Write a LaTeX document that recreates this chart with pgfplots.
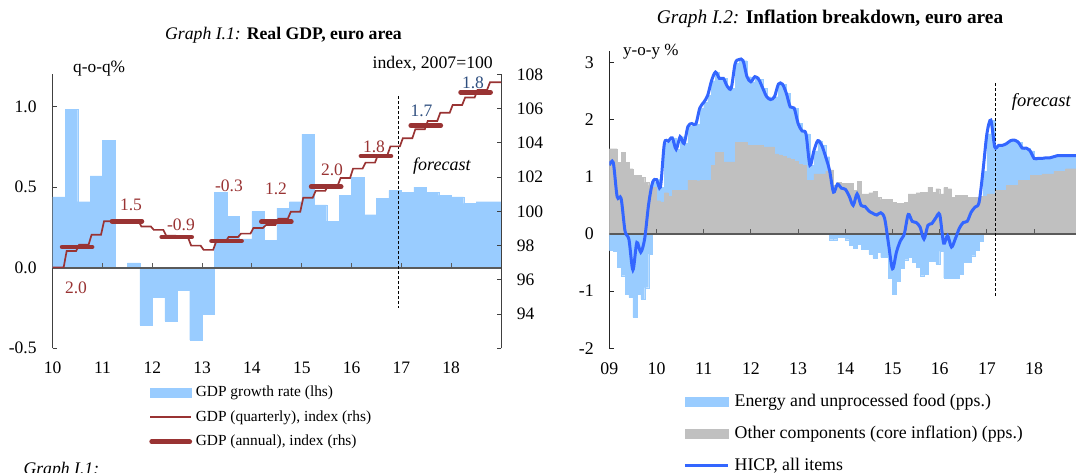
\documentclass[border=0pt]{standalone}
\usepackage{fontspec}
\setmainfont{Liberation Serif}
\usepackage{pgfplots}
\usepackage{pgfplotstable}
\pgfplotsset{compat=1.18}
\definecolor{barblue}{HTML}{99CCFF}
\definecolor{gdpred}{HTML}{993333}
\definecolor{fcblue}{HTML}{2F4F7F}
\definecolor{coregrey}{HTML}{C0C0C0}
\definecolor{hicpblue}{HTML}{3366FF}
\definecolor{zerogrey}{HTML}{5A5A5A}
\newcommand{\fa}{\fontsize{17.5pt}{21pt}\selectfont}
\newcommand{\fl}{\fontsize{15.4pt}{18pt}\selectfont}
\newcommand{\fr}{\fontsize{17.8pt}{21pt}\selectfont}

\pgfplotstableread{
x g
10.00 0.44
10.25 0.985
10.50 0.41
10.75 0.57
11.00 0.79
11.25 0.00
11.50 0.03
11.75 -0.356
12.00 -0.18
12.25 -0.33
12.50 -0.14
12.75 -0.45
13.00 -0.29
13.25 0.47
13.50 0.32
13.75 0.18
14.00 0.35
14.25 0.17
14.50 0.37
14.75 0.41
15.00 0.83
15.25 0.39
15.50 0.29
15.75 0.45
16.00 0.56
16.25 0.33
16.50 0.43
16.75 0.48
17.00 0.47
17.25 0.50
17.50 0.47
17.75 0.45
18.00 0.44
18.25 0.40
18.50 0.41
18.75 0.41
19.00 0.41
}\gdpq

\pgfplotstableread{
m c b h
0 1.49 -0.29 1.20
1 1.49 -0.30 1.25
2 1.25 -0.58 0.65
3 1.43 -0.73 0.62
4 1.25 -1.05 0.05
5 1.14 -1.11 -0.10
6 1.02 -1.46 -0.63
7 1.02 -1.05 -0.15
8 0.99 -1.14 -0.32
9 0.90 -0.94 -0.08
10 0.85 -0.35 0.52
11 0.82 0.90 0.90
12 0.58 0.95 0.95
13 0.56 0.82 0.82
14 0.72 1.58 1.58
15 0.66 1.62 1.62
16 0.76 1.68 1.68
17 0.76 1.48 1.48
18 0.76 1.70 1.70
19 0.76 1.58 1.58
20 0.94 1.88 1.88
21 0.94 1.93 1.93
22 0.93 1.92 1.92
23 0.94 2.20 2.20
24 0.94 2.30 2.30
25 0.94 2.42 2.42
26 1.20 2.68 2.68
27 1.43 2.83 2.83
28 1.43 2.72 2.72
29 1.26 2.72 2.72
30 1.26 2.58 2.58
31 1.26 2.55 2.55
32 1.60 2.98 2.98
33 1.60 3.05 3.05
34 1.60 3.03 3.03
35 1.55 2.75 2.75
36 1.55 2.66 2.66
37 1.55 2.75 2.75
38 1.55 2.70 2.70
39 1.52 2.55 2.55
40 1.52 2.40 2.40
41 1.52 2.35 2.35
42 1.40 2.40 2.40
43 1.38 2.62 2.62
44 1.36 2.62 2.62
45 1.33 2.46 2.46
46 1.30 2.22 2.22
47 1.27 2.20 2.20
48 1.22 1.93 1.93
49 1.20 1.80 1.80
50 0.94 1.75 1.75
51 0.94 1.20 1.20
52 1.05 1.45 1.45
53 1.05 1.63 1.63
54 1.05 1.55 1.55
55 1.10 1.35 1.35
56 1.12 -0.10 1.11
57 0.85 -0.10 0.73
58 0.90 -0.06 0.87
59 0.88 -0.06 0.80
60 0.88 -0.10 0.78
61 0.88 -0.19 0.66
62 0.76 -0.25 0.50
63 0.92 -0.18 0.70
64 0.70 -0.26 0.50
65 0.70 -0.26 0.48
66 0.72 -0.35 0.40
67 0.74 -0.42 0.36
68 0.64 -0.32 0.33
69 0.60 -0.41 0.37
70 0.60 -0.41 0.27
71 0.60 -0.78 -0.18
72 0.55 -1.06 -0.61
73 0.53 -0.82 -0.32
74 0.53 -0.60 -0.12
75 0.55 -0.45 0.00
76 0.70 -0.40 0.34
77 0.70 -0.50 0.22
78 0.72 -0.58 0.20
79 0.73 -0.73 0.12
80 0.73 -0.70 -0.09
81 0.82 -0.47 0.15
82 0.73 -0.47 0.18
83 0.79 -0.53 0.28
84 0.70 -0.30 0.34
85 0.81 -0.77 -0.16
86 0.79 -0.77 -0.03
87 0.64 -0.77 -0.23
88 0.67 -0.77 -0.08
89 0.67 -0.70 0.10
90 0.67 -0.50 0.20
91 0.64 -0.50 0.22
92 0.64 -0.38 0.38
93 0.64 -0.28 0.47
94 0.66 -0.12 0.55
95 0.66 1.10 1.10
96 0.70 1.75 1.75
97 0.70 1.99 1.99
98 0.76 1.52 1.52
99 0.76 1.55 1.55
100 0.76 1.55 1.55
101 0.85 1.58 1.58
102 0.85 1.63 1.63
103 0.85 1.64 1.64
104 0.94 1.60 1.60
105 0.94 1.50 1.50
106 0.94 1.50 1.50
107 1.03 1.45 1.45
108 1.03 1.32 1.32
109 1.03 1.32 1.32
110 1.05 1.32 1.32
111 1.05 1.33 1.33
112 1.05 1.33 1.33
113 1.10 1.35 1.35
114 1.10 1.37 1.37
115 1.10 1.37 1.37
116 1.14 1.37 1.37
117 1.14 1.37 1.37
118 1.14 1.37 1.37
119 1.14 1.37 1.37
120 1.14 1.37 1.37
}\infl

\begin{document}
\begin{tikzpicture}
% ---------------- Left chart, lhs axis ----------------
\begin{axis}[
  at={(52.7pt,124.7pt)}, anchor=south west, scale only axis,
  width=448.3pt, height=273.8pt,
  xmin=10, xmax=19, ymin=-0.5, ymax=1.2,
  axis x line=bottom, axis y line=left, axis line style={-},
  x axis line style={draw=none},
  y axis line style={line width=1pt, black!75},
  xtick={10,11,12,13,14,15,16,17,18},
  xticklabels={10,11,12,13,14,15,16,17,18},
  xtick style={draw=none},
  ytick={-0.5,0,0.5,1}, yticklabels={-0.5,0.0,0.5,1.0},
  ytick style={line width=1pt, black!75},
  tick align=inside, major tick length=4.5pt,
  xticklabel style={font=\fa, anchor=base, yshift=-25pt, inner sep=0pt},
  yticklabel style={font=\fa, anchor=east, xshift=-16pt, inner sep=0pt},
]
\addplot[ybar interval, fill=barblue, draw=barblue, line width=0.2pt] table[x=x,y=g]{\gdpq};
\draw[zerogrey, line width=1.6pt] (axis cs:10,0) -- (axis cs:19,0);
\pgfplotsinvokeforeach{11,...,18}{\draw[zerogrey, line width=1pt] (axis cs:#1,0) -- ([yshift=5pt]axis cs:#1,0);}
\draw[black, line width=0.8pt, dash pattern=on 3pt off 2pt] (axis cs:16.95,1.065) -- (axis cs:16.95,-0.25);
\end{axis}
% ---------------- Left chart, rhs axis ----------------
\begin{axis}[
  at={(52.7pt,124.7pt)}, anchor=south west, scale only axis,
  width=448.3pt, height=273.8pt,
  xmin=10, xmax=19, ymin=92, ymax=108,
  axis x line=none, axis y line=right, axis line style={-},
  y axis line style={line width=1pt, black!75},
  ytick={92,94,...,108}, yticklabels={,94,96,98,100,102,104,106,108},
  ytick style={line width=1pt, black!75},
  tick align=inside, major tick length=4.5pt,
  yticklabel style={font=\fa, anchor=west, xshift=15.7pt, inner sep=0pt},
  unbounded coords=jump,
  legend style={at={(0.2155,-0.133)}, anchor=north west, draw=none, fill=none,
    inner sep=0pt, outer sep=0pt, row sep=8.5pt, column sep=3.7pt, font=\fl,
    nodes={inner sep=0pt, text height=12pt, text depth=4pt}, cells={anchor=west}},
]
\addlegendimage{legend image code/.code={\fill[barblue] (0pt,-4.5pt) rectangle (41pt,4.5pt);}}
\addlegendentry{GDP growth rate (lhs)}
\addlegendimage{legend image code/.code={\draw[gdpred, line width=1.7pt] (0pt,0pt) -- (41pt,0pt);}}
\addlegendentry{GDP (quarterly), index (rhs)}
\addlegendimage{legend image code/.code={\draw[gdpred, line width=4.8pt, line cap=round] (1.5pt,0pt) -- (39.5pt,0pt);}}
\addlegendentry{GDP (annual), index (rhs)}
\addplot[forget plot, gdpred, line width=1.7pt] coordinates {
(10.00,96.73) (10.22,96.73) (10.28,97.68) (10.47,97.68) (10.53,98.05) (10.72,98.05)
(10.78,98.63) (10.97,98.63) (11.03,99.42) (11.22,99.42) (11.28,99.45) (11.47,99.45)
(11.53,99.45) (11.72,99.45) (11.78,99.12) (11.97,99.12) (12.03,98.92) (12.22,98.92)
(12.28,98.58) (12.47,98.58) (12.53,98.45) (12.72,98.45) (12.78,98.00) (12.97,98.00)
(13.03,97.75) (13.22,97.75) (13.28,98.22) (13.47,98.22) (13.53,98.50) (13.72,98.50)
(13.78,98.70) (13.97,98.70) (14.03,99.03) (14.22,99.03) (14.28,99.20) (14.47,99.20)
(14.53,99.57) (14.72,99.57) (14.78,99.98) (14.97,99.98) (15.03,100.80) (15.22,100.80)
(15.28,101.20) (15.47,101.20) (15.53,101.50) (15.72,101.50) (15.78,101.95) (15.97,101.95)
(16.03,102.50) (16.22,102.50) (16.28,102.85) (16.47,102.85) (16.53,103.30) (16.72,103.30)
(16.78,103.80) (16.97,103.80) (17.03,104.28) (17.22,104.28) (17.28,104.80) (17.47,104.80)
(17.53,105.28) (17.72,105.28) (17.78,105.76) (17.97,105.76) (18.03,106.22) (18.22,106.22)
(18.28,106.65) (18.47,106.65) (18.53,107.10) (18.72,107.10) (18.78,107.55) (19.00,107.55)
};
\addplot[forget plot, gdpred, line width=4.8pt, line cap=round] coordinates {
(10.19,97.92) (10.79,97.92) (10.9,nan)
(11.19,99.43) (11.79,99.43) (11.9,nan)
(12.19,98.50) (12.79,98.50) (12.9,nan)
(13.19,98.27) (13.79,98.27) (13.9,nan)
(14.19,99.40) (14.79,99.40) (14.9,nan)
(15.19,101.44) (15.79,101.44) (15.9,nan)
(16.19,103.24) (16.79,103.24) (16.9,nan)
(17.19,105.02) (17.79,105.02) (17.9,nan)
(18.19,106.97) (18.79,106.97)
};
\end{axis}
% ---------------- Right chart ----------------
\begin{axis}[
  at={(609.3pt,124.7pt)}, anchor=south west, scale only axis,
  width=472pt, height=297.4pt,
  xmin=9, xmax=19, ymin=-2, ymax=3.2,
  axis x line=bottom, axis y line=left, axis line style={-},
  x axis line style={draw=none}, xtick style={draw=none},
  y axis line style={line width=1.1pt, black!85},
  ytick style={line width=1pt, black!85},
  xtick={9,10,11,12,13,14,15,16,17,18},
  xticklabels={09,10,11,12,13,14,15,16,17,18},
  ytick={-2,-1,0,1,2,3}, yticklabels={-2,-1,0,1,2,3},
  tick align=inside, major tick length=4.5pt,
  xticklabel style={font=\fr, anchor=base, yshift=-26.7pt, inner sep=0pt},
  yticklabel style={font=\fr, anchor=east, xshift=-15.3pt, inner sep=0pt},
  legend style={at={(0.1568,-0.1503)}, anchor=north west, draw=none, fill=none,
    inner sep=0pt, outer sep=0pt, row sep=13.8pt, column sep=5pt, font=\fr,
    nodes={inner sep=0pt, text height=13.5pt, text depth=4.5pt}, cells={anchor=west}},
]
\addlegendimage{legend image code/.code={\fill[barblue] (0pt,-4.5pt) rectangle (43.4pt,4.5pt);}}
\addlegendentry{Energy and unprocessed food (pps.)}
\addlegendimage{legend image code/.code={\fill[coregrey] (0pt,-4.5pt) rectangle (43.4pt,4.5pt);}}
\addlegendentry{Other components (core inflation) (pps.)}
\addlegendimage{legend image code/.code={\draw[hicpblue, line width=3pt] (0pt,0pt) -- (43.4pt,0pt);}}
\addlegendentry{HICP, all items}
\addplot[forget plot, ybar interval, fill=barblue, draw=barblue, line width=0.2pt] table[x expr=9+\thisrow{m}/12, y=b]{\infl};
\addplot[forget plot, ybar interval, fill=coregrey, draw=coregrey, line width=0.2pt] table[x expr=9+\thisrow{m}/12, y=c]{\infl};
\draw[zerogrey, line width=1.6pt] (axis cs:9,0) -- (axis cs:19,0);
\pgfplotsinvokeforeach{10,...,18}{\draw[zerogrey, line width=1pt] (axis cs:#1,0) -- ([yshift=5pt]axis cs:#1,0);}
\draw[black, line width=0.8pt, dash pattern=on 3pt off 2pt] (axis cs:17.19,2.63) -- (axis cs:17.19,-1.1);
\addplot[forget plot, hicpblue, line width=3pt, smooth, tension=0.5] table[x expr=9+\thisrow{m}/12, y=h]{\infl};
\end{axis}
% ---------------- Texts ----------------
\node[anchor=base] at (283.5pt,433pt) {\fontsize{17.7pt}{21pt}\selectfont\textit{Graph I.1:} \textbf{Real GDP, euro area}};
\node[anchor=base] at (830pt,449pt) {\fontsize{19.3pt}{23pt}\selectfont\textit{Graph I.2:} \textbf{Inflation breakdown, euro area}};
\node[anchor=base west, inner sep=0pt] at (73pt,400.5pt) {\fontsize{17.3pt}{21pt}\selectfont q-o-q\%};
\node[anchor=base east, inner sep=0pt] at (493pt,404pt) {\fontsize{17.7pt}{21pt}\selectfont index, 2007=100};
\node[anchor=base west, inner sep=0pt] at (623pt,417pt) {\fontsize{17pt}{21pt}\selectfont y-o-y \%};
\node[anchor=base west, inner sep=0pt] at (413pt,302pt) {\fontsize{18pt}{21pt}\selectfont\itshape forecast};
\node[anchor=base west, inner sep=0pt] at (1011.7pt,366.3pt) {\fontsize{18.5pt}{21pt}\selectfont\itshape forecast};
\begin{scope}[every node/.style={anchor=base, inner sep=0pt, font=\fa}]
\node[text=gdpred] at (76pt,179.7pt) {2.0};
\node[text=gdpred] at (131pt,262.3pt) {1.5};
\node[text=gdpred] at (181pt,242pt) {-0.9};
\node[text=gdpred] at (229pt,281.3pt) {-0.3};
\node[text=gdpred] at (276pt,278pt) {1.2};
\node[text=gdpred] at (332pt,297pt) {2.0};
\node[text=gdpred] at (374pt,320.3pt) {1.8};
\node[text=fcblue] at (421.5pt,356.3pt) {1.7};
\node[text=fcblue] at (473pt,384.7pt) {1.8};
\end{scope}
\node[anchor=base west, inner sep=0pt] at (23.3pt,-2pt) {\fontsize{17.7pt}{21pt}\selectfont\itshape Graph I.1:};
\pgfresetboundingbox
\path[use as bounding box] (0pt,0pt) rectangle (1076pt,473pt);
\end{tikzpicture}
\end{document}
